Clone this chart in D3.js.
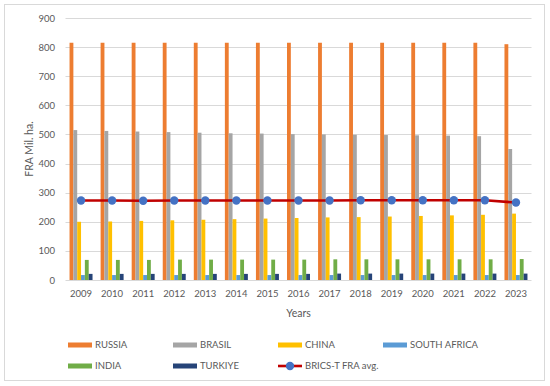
<!DOCTYPE html>
<html>
<head>
<meta charset="utf-8">
<script src="https://cdn.jsdelivr.net/npm/d3@7"></script>
<style>
  body { margin: 0; background: #fff; }
  svg { display: block; font-family: Lato, "Open Sans", sans-serif; }
</style>
</head>
<body>
<svg id="chart" width="550" height="386"></svg>
<script>
const years = ["2009","2010","2011","2012","2013","2014","2015","2016","2017","2018","2019","2020","2021","2022","2023"];
const russia   = [815,815,815,815,815,815,815,815,815,815,815,815,815,815,810];
const brasil   = [515,512,510,508,506,504,503,501,500,499,498,497,496,494,450];
const china    = [200,201,203,205,207,209,211,213,215,216,218,220,222,224,228];
const safrica  = [17,17,17,17,17,17,17,17,17,17,17,17,17,17,17];
const india    = [69,69,69,70,70,70,70,70,71,71,71,71,71,71,72];
const turkiye  = [21,21,21,21,21,21,21,21,22,22,22,22,22,22,22];
const bricsAvg = [273,273,272,273,273,273,273,273,273,274,274,274,274,274,266];
const yTicks = [0,100,200,300,400,500,600,700,800,900];

const series = [
  { name: "RUSSIA", values: russia, color: "#ED7D31" },
  { name: "BRASIL", values: brasil, color: "#A5A5A5" },
  { name: "CHINA", values: china, color: "#FFC000" },
  { name: "SOUTH AFRICA", values: safrica, color: "#5B9BD5" },
  { name: "INDIA", values: india, color: "#70AD47" },
  { name: "TURKIYE", values: turkiye, color: "#264478" }
];

const width = 550, height = 386;
const margin = { top: 18, right: 18.5, bottom: 106, left: 65.5 };
const textColor = "#595959", gridColor = "#D9D9D9";

const svg = d3.select("#chart");

// outer frame
svg.append("rect")
  .attr("x", 4.5).attr("y", 4.5)
  .attr("width", 540).attr("height", 376)
  .attr("fill", "#fff").attr("stroke", gridColor);

const x0 = d3.scaleBand().domain(years).range([margin.left, width - margin.right]);
const bw = x0.bandwidth();
const groupW = bw * 0.74;
const x1 = d3.scaleBand().domain(series.map(s => s.name))
  .range([(bw - groupW) / 2, (bw + groupW) / 2]);
const y = d3.scaleLinear().domain([0, 900]).range([height - margin.bottom, margin.top]);

// grid
svg.append("g")
  .selectAll("line").data(yTicks).join("line")
  .attr("x1", margin.left).attr("x2", width - margin.right)
  .attr("y1", d => Math.round(y(d)) + 0.5).attr("y2", d => Math.round(y(d)) + 0.5)
  .attr("stroke", gridColor).attr("stroke-width", 1);

// y axis labels
const yAxis = svg.append("g")
  .attr("transform", "translate(" + (margin.left - 10.5) + ",0)")
  .call(d3.axisLeft(y).tickValues(yTicks).tickSize(0).tickPadding(0));
yAxis.select(".domain").remove();
yAxis.selectAll("text").attr("fill", textColor).style("font-size", "9.5px").style("font-family", "Lato, 'Open Sans', sans-serif");

// x axis labels
const xAxis = svg.append("g")
  .attr("transform", "translate(0," + (height - margin.bottom) + ")")
  .call(d3.axisBottom(x0).tickSize(0).tickPadding(10));
xAxis.select(".domain").remove();
xAxis.selectAll("text").attr("fill", textColor).style("font-size", "9.5px").style("font-family", "Lato, 'Open Sans', sans-serif");

// bars
const groups = svg.append("g").selectAll("g").data(years).join("g")
  .attr("transform", d => "translate(" + x0(d) + ",0)");
groups.selectAll("rect")
  .data((d, i) => series.map(s => ({ name: s.name, color: s.color, v: s.values[i] })))
  .join("rect")
  .attr("x", d => x1(d.name))
  .attr("width", x1.bandwidth())
  .attr("y", d => y(d.v))
  .attr("height", d => y(0) - y(d.v))
  .attr("fill", d => d.color);

// average line
const line = d3.line()
  .x((d, i) => x0(years[i]) + bw / 2)
  .y(d => y(d));
svg.append("path")
  .datum(bricsAvg)
  .attr("fill", "none")
  .attr("stroke", "#C00000")
  .attr("stroke-width", 2.6)
  .attr("d", line);
svg.append("g").selectAll("circle").data(bricsAvg).join("circle")
  .attr("cx", (d, i) => x0(years[i]) + bw / 2)
  .attr("cy", d => y(d))
  .attr("r", 4.2)
  .attr("fill", "#4472C4");

// axis titles
svg.append("text")
  .attr("x", (margin.left + width - margin.right) / 2)
  .attr("y", 317)
  .attr("text-anchor", "middle")
  .attr("fill", textColor)
  .style("font-size", "10.5px")
  .text("Years");

svg.append("text")
  .attr("transform", "rotate(-90)")
  .attr("x", -149)
  .attr("y", 33)
  .attr("text-anchor", "middle")
  .attr("fill", textColor)
  .style("font-size", "10.5px")
  .text("FRA Mil. ha.");

// legend
const legendItems = series.map(s => ({ name: s.name, color: s.color, type: "bar" }));
legendItems.push({ name: "BRICS-T FRA avg.", color: "#C00000", type: "line" });
const legX = [68, 173, 278, 383];
const legY = [345, 366];
const leg = svg.append("g").selectAll("g").data(legendItems).join("g")
  .attr("transform", (d, i) => "translate(" + legX[i % 4] + "," + legY[Math.floor(i / 4)] + ")");
leg.filter(d => d.type === "bar").append("rect")
  .attr("x", 0).attr("y", -2.5).attr("width", 24).attr("height", 5)
  .attr("fill", d => d.color);
leg.filter(d => d.type === "line").append("line")
  .attr("x1", 0).attr("x2", 24).attr("y1", 0).attr("y2", 0)
  .attr("stroke", d => d.color).attr("stroke-width", 2.6);
leg.filter(d => d.type === "line").append("circle")
  .attr("cx", 12).attr("cy", 0).attr("r", 4.2).attr("fill", "#4472C4");
leg.append("text")
  .attr("x", 27).attr("y", 0).attr("dy", "0.35em")
  .attr("fill", textColor)
  .style("font-size", "9.5px")
  .text(d => d.name);
</script>
</body>
</html>
